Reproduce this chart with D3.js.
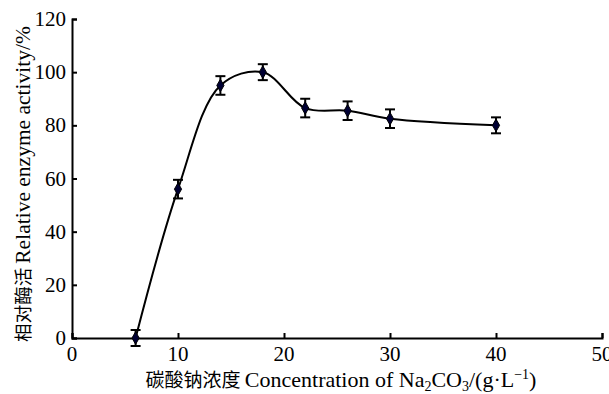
<!DOCTYPE html>
<html>
<head>
<meta charset="utf-8">
<script src="https://cdn.jsdelivr.net/npm/d3@7"></script>
<style>
body { margin: 0; background: #fff; }
svg text { font-family: "Liberation Serif", "Times New Roman", serif; fill: #000; }
</style>
</head>
<body>
<div id="chart"></div>
<script>
// sodium carbonate concentration (g/L) vs relative activity (%)
var conc = [6, 10, 14, 18, 22, 26, 30, 40];
var activity = [0, 56, 95, 100, 86.5, 85.5, 82.5, 80];
var errs = [3, 3.5, 3.5, 3, 3.5, 3.5, 3.5, 3];
var xTicks = [0, 10, 20, 30, 40, 50];
var yTicks = [0, 20, 40, 60, 80, 100, 120];

var W = 609, H = 394;
var margin = {left: 72, top: 19, right: 7, bottom: 56};
var svg = d3.select("#chart").append("svg").attr("width", W).attr("height", H);

var x = d3.scaleLinear().domain([0, 50]).range([margin.left, W - margin.right]);
var y = d3.scaleLinear().domain([0, 120]).range([H - margin.bottom, margin.top]);

var data = conc.map(function(c, i) { return {x: c, y: activity[i], e: errs[i]}; });

// axes, ticks pointing inward
svg.append("g")
	.attr("transform", "translate(0," + y(0) + ")")
	.call(d3.axisTop(x).tickValues(xTicks).tickSize(5).tickFormat(""));
svg.append("g")
	.attr("transform", "translate(" + x(0) + ",0)")
	.call(d3.axisRight(y).tickValues(yTicks).tickSize(5).tickFormat(""));
svg.selectAll(".domain").attr("stroke", "#000").attr("stroke-width", 2);
svg.selectAll(".tick line").attr("stroke", "#000").attr("stroke-width", 2);

// tick labels
svg.selectAll(".xlab").data(xTicks).enter().append("text")
	.attr("x", function(d) { return x(d); })
	.attr("y", y(0) + 23)
	.attr("text-anchor", "middle")
	.style("font-size", "21px")
	.text(function(d) { return d; });
svg.selectAll(".ylab").data(yTicks).enter().append("text")
	.attr("x", x(0) - 6)
	.attr("y", function(d) { return y(d) + 7; })
	.attr("text-anchor", "end")
	.style("font-size", "21px")
	.text(function(d) { return d; });

// axis titles
var xt = svg.append("text")
	.attr("x", 341).attr("y", 387)
	.attr("text-anchor", "middle")
	.style("font-size", "22px");
xt.append("tspan").style("font-family", "'Noto Sans CJK SC'").style("font-size", "19px").text("碳酸钠浓度 ");
xt.append("tspan").text("Concentration of Na");
xt.append("tspan").attr("dy", 4).style("font-size", "14px").text("2");
xt.append("tspan").attr("dy", -4).text("CO");
xt.append("tspan").attr("dy", 4).style("font-size", "14px").text("3");
xt.append("tspan").attr("dy", -4).text("/(g·L");
xt.append("tspan").attr("dy", -8).style("font-size", "14px").text("−1");
xt.append("tspan").attr("dy", 8).text(")");

var yt = svg.append("text")
	.attr("transform", "translate(30," + 184 + ") rotate(-90)")
	.attr("text-anchor", "middle")
	.style("font-size", "21.5px");
yt.append("tspan").style("font-family", "'Noto Sans CJK SC'").style("font-size", "18.5px").text("相对酶活 ");
yt.append("tspan").text("Relative enzyme activity/%");

// smooth curve
var line = d3.line()
	.x(function(d) { return x(d.x); })
	.y(function(d) { return y(d.y); })
	.curve(d3.curveCatmullRom.alpha(0.5));
svg.append("path").datum(data)
	.attr("d", line)
	.attr("fill", "none")
	.attr("stroke", "#000")
	.attr("stroke-width", 2);

// error bars
var eb = svg.selectAll(".eb").data(data).enter().append("g").attr("stroke", "#000").attr("stroke-width", 2);
eb.append("line")
	.attr("x1", function(d) { return x(d.x); }).attr("x2", function(d) { return x(d.x); })
	.attr("y1", function(d) { return y(d.y - d.e); }).attr("y2", function(d) { return y(d.y + d.e); });
eb.append("line")
	.attr("x1", function(d) { return x(d.x) - 5; }).attr("x2", function(d) { return x(d.x) + 5; })
	.attr("y1", function(d) { return y(d.y + d.e); }).attr("y2", function(d) { return y(d.y + d.e); });
eb.append("line")
	.attr("x1", function(d) { return x(d.x) - 5; }).attr("x2", function(d) { return x(d.x) + 5; })
	.attr("y1", function(d) { return y(d.y - d.e); }).attr("y2", function(d) { return y(d.y - d.e); });

// diamond markers
svg.selectAll(".pt").data(data).enter().append("path")
	.attr("transform", function(d) { return "translate(" + x(d.x) + "," + y(d.y) + ")"; })
	.attr("d", d3.symbol().type(d3.symbolDiamond).size(45))
	.attr("fill", "#000033")
	.attr("stroke", "#000")
	.attr("stroke-width", 1);
</script>
</body>
</html>
